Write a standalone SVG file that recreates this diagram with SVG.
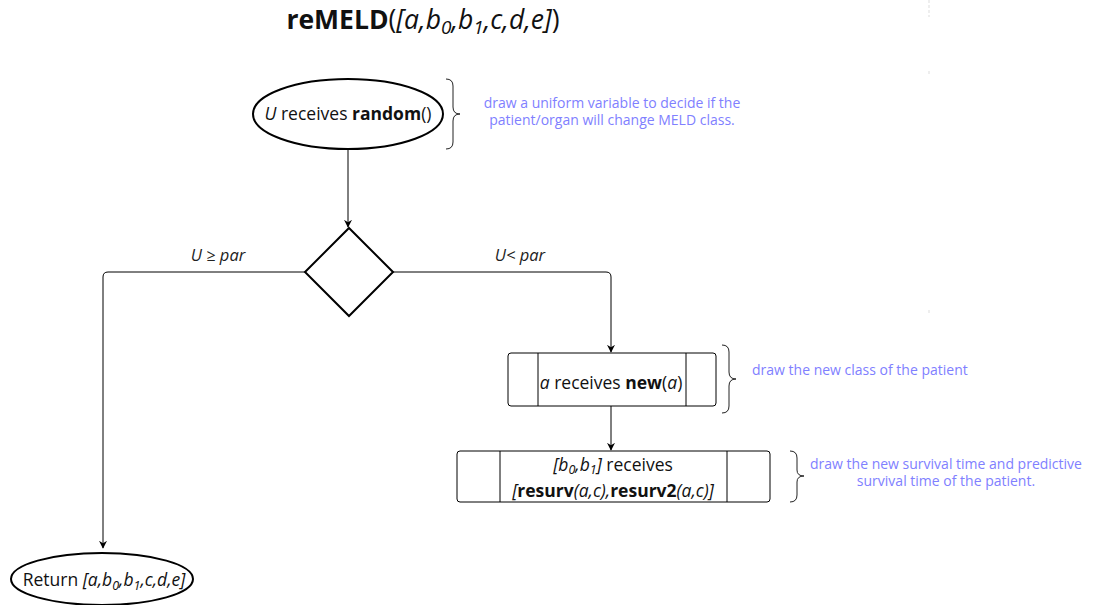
<svg xmlns="http://www.w3.org/2000/svg" width="1095" height="605" viewBox="0 0 1095 605">
<defs>
<marker id="arr" viewBox="0 0 10 10" refX="9" refY="5" markerWidth="8" markerHeight="8" markerUnits="userSpaceOnUse" orient="auto">
<path d="M0,0 L10,5 L0,10 L3,5 z" fill="#000"/>
</marker>
<style>
text{font-family:"Open Sans","Noto Sans","Liberation Sans",sans-serif;fill:#111}
.t{font-size:17.5px}
.n{font-size:17.5px}
.note{font-size:14px;fill:#8080ff}
.lbl{font-size:16.5px;font-style:italic;fill:#222}
.shape{fill:#fff;stroke:#000;stroke-width:2}
.box{fill:#fff;stroke:#000;stroke-width:1}
.brace{fill:none;stroke:#222;stroke-width:1}
.edge{fill:none;stroke:#000;stroke-width:1}
.i{font-style:italic}
.b{font-weight:bold}
.s{font-size:12.5px}
</style>
</defs>
<rect width="1095" height="605" fill="#fff"/>
<g id="guide" stroke="#ddd" stroke-width="1" stroke-dasharray="3,2">
<line x1="929" y1="0" x2="929" y2="17"/>
<line x1="929" y1="71" x2="929" y2="75"/>
<line x1="929" y1="310" x2="929" y2="315"/>
</g>
<g id="title">
<text x="423" y="29" text-anchor="middle" style="font-size:26.5px"><tspan class="b">reMELD</tspan>(<tspan class="i">[a,b<tspan style="font-size:19px" dy="5">0</tspan><tspan dy="-5">,b</tspan><tspan style="font-size:19px" dy="5">1</tspan><tspan dy="-5">,c,d,e]</tspan></tspan>)</text>
</g>
<g id="connectors">
<line class="edge" x1="348" y1="149" x2="348" y2="227" marker-end="url(#arr)"/>
<path class="edge" d="M305,272 H108 Q103,272 103,277 V548" marker-end="url(#arr)"/>
<path class="edge" d="M393,272 H606 Q611,272 611,277 V352" marker-end="url(#arr)"/>
<line class="edge" x1="611" y1="406" x2="611" y2="450" marker-end="url(#arr)"/>
<text class="lbl" x="218" y="261" text-anchor="middle">U ≥ par</text>
<text class="lbl" x="520" y="261" text-anchor="middle">U&lt; par</text>
</g>
<g id="start">
<ellipse class="shape" cx="348" cy="114" rx="95" ry="35"/>
<text class="t" x="348" y="120" text-anchor="middle"><tspan class="i">U</tspan> receives <tspan class="b">random</tspan>()</text>
</g>
<g id="note1">
<path class="brace" d="M446,79 Q453,79 453,86 V107 Q453,114 460,114 Q453,114 453,121 V142 Q453,149 446,149"/>
<text class="note" x="612" y="108" text-anchor="middle">draw a uniform variable to decide if the</text>
<text class="note" x="612" y="125" text-anchor="middle">patient/organ will change MELD class.</text>
</g>
<g id="decision">
<polygon class="shape" points="349,228 393,272 349,316 305,272"/>
</g>
<g id="newclass">
<rect class="box" x="508" y="353" width="208" height="53" rx="3"/>
<line class="box" x1="538" y1="353" x2="538" y2="406"/>
<line class="box" x1="686" y1="353" x2="686" y2="406"/>
<text class="n" x="611" y="389" text-anchor="middle"><tspan class="i">a</tspan> receives <tspan class="b">new</tspan>(<tspan class="i">a</tspan>)</text>
</g>
<g id="note2">
<path class="brace" d="M722,345 Q729,345 729,352 V372 Q729,379 736,379 Q729,379 729,386 V406 Q729,413 722,413"/>
<text class="note" x="752" y="375">draw the new class of the patient</text>
</g>
<g id="resurv">
<rect class="box" x="457" y="451" width="313" height="51" rx="3"/>
<line class="box" x1="500" y1="451" x2="500" y2="502"/>
<line class="box" x1="727" y1="451" x2="727" y2="502"/>
<text class="n" x="613" y="471" text-anchor="middle"><tspan class="i">[b<tspan class="s" dy="3">0</tspan><tspan dy="-3">,b</tspan><tspan class="s" dy="3">1</tspan><tspan dy="-3">]</tspan></tspan> receives</text>
<text class="n" x="613" y="497" text-anchor="middle"><tspan class="i">[</tspan><tspan class="b">resurv</tspan><tspan class="i">(a,c),</tspan><tspan class="b">resurv2</tspan><tspan class="i">(a,c)]</tspan></text>
</g>
<g id="note3">
<path class="brace" d="M790,451 Q797,451 797,458 V470 Q797,476 804,476 Q797,476 797,482 V495 Q797,502 790,502"/>
<text class="note" x="946" y="469" text-anchor="middle">draw the new survival time and predictive</text>
<text class="note" x="946" y="486" text-anchor="middle">survival time of the patient.</text>
</g>
<g id="return">
<ellipse class="shape" cx="102" cy="579" rx="91" ry="26"/>
<text class="n" x="104" y="586" text-anchor="middle">Return <tspan class="i">[a,b<tspan class="s" dy="4">0</tspan><tspan dy="-4">,b</tspan><tspan class="s" dy="4">1</tspan><tspan dy="-4">,c,d,e]</tspan></tspan></text>
</g>
</svg>
